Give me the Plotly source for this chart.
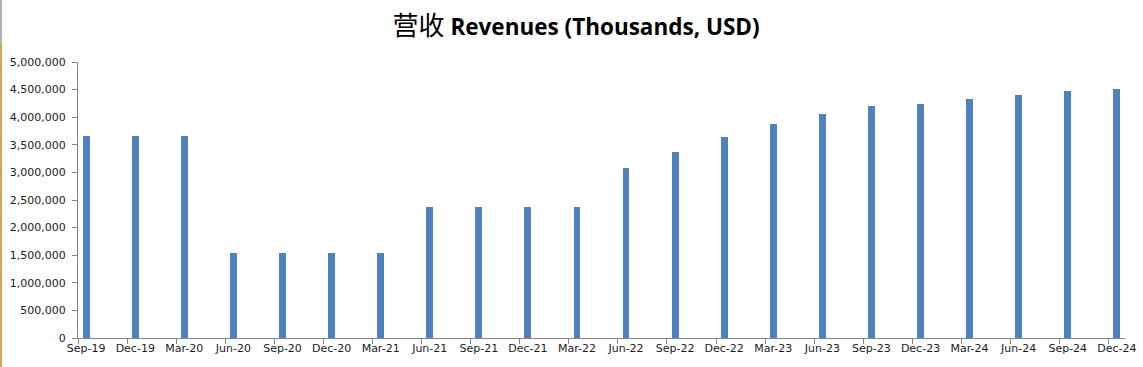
import pandas as pd
import plotly.graph_objects as go

# ---- data ----
quarters = ["Sep-19", "Dec-19", "Mar-20", "Jun-20", "Sep-20", "Dec-20", "Mar-21",
            "Jun-21", "Sep-21", "Dec-21", "Mar-22", "Jun-22", "Sep-22", "Dec-22",
            "Mar-23", "Jun-23", "Sep-23", "Dec-23", "Mar-24", "Jun-24", "Sep-24", "Dec-24"]
revenues = [3665000, 3665000, 3665000, 1535000, 1535000, 1535000, 1535000,
            2365000, 2365000, 2365000, 2365000, 3085000, 3365000, 3645000,
            3885000, 4065000, 4195000, 4245000, 4335000, 4405000, 4475000, 4515000]
y_ticks = list(range(0, 5000001, 500000))

# month-slot positions (Excel date axis with monthly base unit)
dates = pd.to_datetime(quarters, format="%b-%y")
start = dates[0]
month_idx = [(d.year - start.year) * 12 + (d.month - start.month) for d in dates]
n_slots = month_idx[-1] + 1
x_center = [m + 0.5 for m in month_idx]

BLUE = "#4F81BD"
AXIS = "#868686"
FONT = "DejaVu Sans"

fig = go.Figure(go.Bar(
    x=x_center, y=revenues, width=0.42,
    marker=dict(color=BLUE, line=dict(width=0)),
    showlegend=False,
))

fig.update_layout(
    width=1143, height=367,
    margin=dict(l=78, r=18, t=62, b=29, autoexpand=False),
    paper_bgcolor="white", plot_bgcolor="white",
    title=dict(
        text="<span style='font-size:26px'>营收</span> <b>Revenues (Thousands, USD)</b>",
        x=0.504, xanchor="center", y=0.925, yanchor="middle",
        font=dict(family="Open Sans, Noto Sans CJK SC", size=22.5, color="#000000"),
    ),
    bargap=0,
    shapes=[
        dict(type="line", xref="paper", yref="paper",
             x0=-77/1047, x1=-77/1047, y0=-29/276, y1=(276+19)/276,
             line=dict(color="#D8A55E", width=2)),
        dict(type="line", xref="paper", yref="paper",
             x0=-77/1047, x1=-77/1047, y0=(276+19)/276, y1=(276+62)/276,
             line=dict(color="#B0B0B0", width=2)),
    ],
)

fig.update_xaxes(
    range=[0, n_slots], automargin=False,
    tickmode="array", tickvals=x_center, ticktext=quarters,
    ticks="", showgrid=False, zeroline=False,
    showline=True, linecolor=AXIS, linewidth=1,
    tickfont=dict(family=FONT, size=11, color="#1a1a1a"),
    minor=dict(tickmode="array", tickvals=month_idx, ticks="outside",
               ticklen=5, tickcolor=AXIS, tickwidth=1, showgrid=False),
    fixedrange=True,
)

fig.update_yaxes(
    range=[0, 5000000], automargin=False,
    tickmode="array", tickvals=y_ticks,
    tickformat=",d",
    ticks="outside", ticklen=5, tickcolor=AXIS, tickwidth=1,
    ticklabelstandoff=4,
    showgrid=False, zeroline=False,
    showline=True, linecolor=AXIS, linewidth=1,
    tickfont=dict(family=FONT, size=11, color="#1a1a1a"),
    fixedrange=True,
)

fig.write_html(
    "out.html",
    config={"displayModeBar": False},
    post_script="document.body.style.margin='0';document.body.style.overflow='hidden';",
)
